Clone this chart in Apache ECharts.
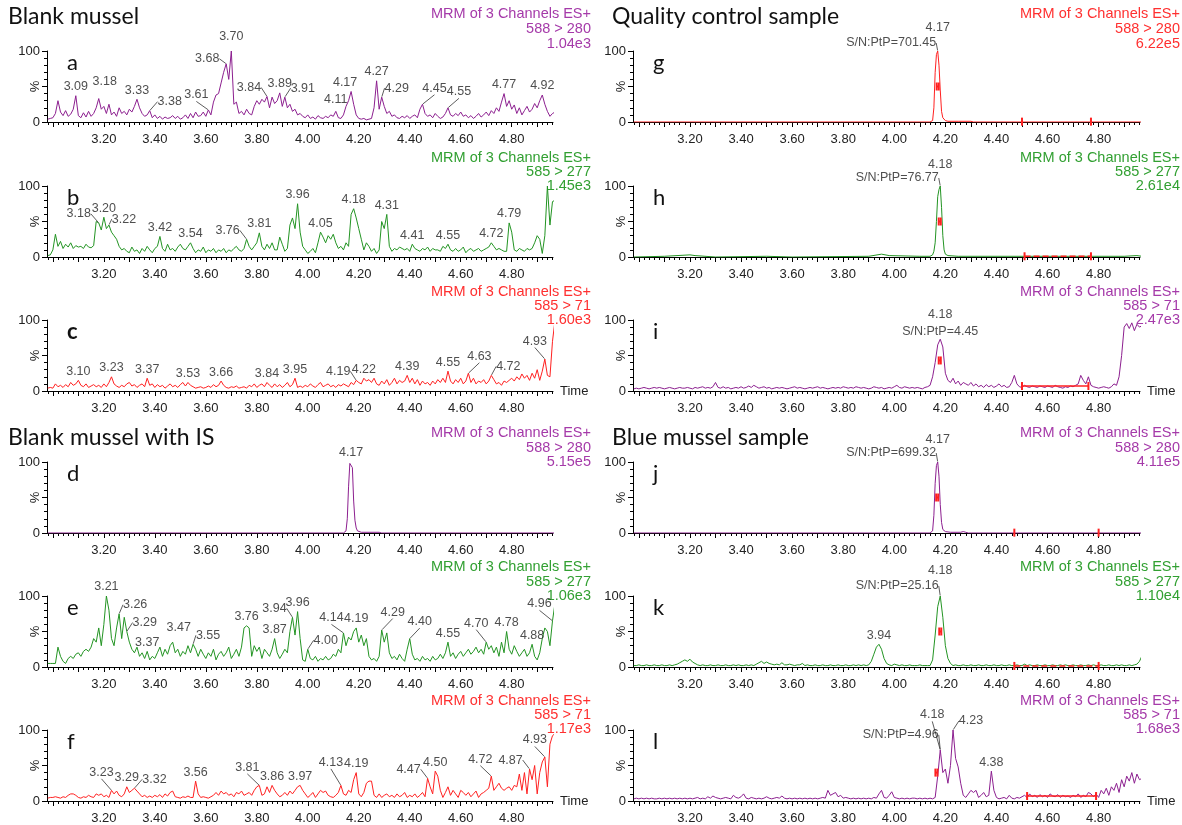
<!DOCTYPE html>
<html><head><meta charset="utf-8">
<script src="https://cdn.jsdelivr.net/npm/echarts@6/dist/echarts.min.js"></script>
<style>html,body{margin:0;padding:0;background:#fff}#c{width:1182px;height:825px}</style>
</head><body><div id="c"></div><script>
// ---------- DATA ----------
const scanTimes = [
2.98,2.99,3.00,3.01,3.02,3.03,3.04,3.05,3.06,3.07,
3.08,3.09,3.10,3.11,3.12,3.13,3.14,3.15,3.16,3.17,
3.18,3.19,3.20,3.21,3.22,3.23,3.24,3.25,3.26,3.27,
3.28,3.29,3.30,3.31,3.32,3.33,3.34,3.35,3.36,3.37,
3.38,3.39,3.40,3.41,3.42,3.43,3.44,3.45,3.46,3.47,
3.48,3.49,3.50,3.51,3.52,3.53,3.54,3.55,3.56,3.57,
3.58,3.59,3.60,3.61,3.62,3.63,3.64,3.65,3.66,3.67,
3.68,3.69,3.70,3.71,3.72,3.73,3.74,3.75,3.76,3.77,
3.78,3.79,3.80,3.81,3.82,3.83,3.84,3.85,3.86,3.87,
3.88,3.89,3.90,3.91,3.92,3.93,3.94,3.95,3.96,3.97,
3.98,3.99,4.00,4.01,4.02,4.03,4.04,4.05,4.06,4.07,
4.08,4.09,4.10,4.11,4.12,4.13,4.14,4.15,4.16,4.17,
4.18,4.19,4.20,4.21,4.22,4.23,4.24,4.25,4.26,4.27,
4.28,4.29,4.30,4.31,4.32,4.33,4.34,4.35,4.36,4.37,
4.38,4.39,4.40,4.41,4.42,4.43,4.44,4.45,4.46,4.47,
4.48,4.49,4.50,4.51,4.52,4.53,4.54,4.55,4.56,4.57,
4.58,4.59,4.60,4.61,4.62,4.63,4.64,4.65,4.66,4.67,
4.68,4.69,4.70,4.71,4.72,4.73,4.74,4.75,4.76,4.77,
4.78,4.79,4.80,4.81,4.82,4.83,4.84,4.85,4.86,4.87,
4.88,4.89,4.90,4.91,4.92,4.93,4.94,4.95,4.96,4.97];

const traceA = [
4,5,6,12,30,14,9,16,8,11, 18,37,9,6,13,7,15,8,12,20,
33,18,22,12,25,10,14,8,20,12, 15,10,18,14,22,32,20,12,8,10,
16,6,10,5,8,4,7,5,6,9, 5,8,4,6,10,5,12,6,14,8,
9,14,8,17,10,28,38,40,55,70, 82,60,100,25,28,12,15,10,18,12,
10,22,30,25,32,28,36,20,35,26, 30,41,22,35,20,25,15,18,10,12,
8,6,10,5,7,4,9,6,5,8, 6,10,8,15,6,5,10,22,30,43,
25,10,5,4,5,3,4,5,20,58, 18,35,22,12,15,8,10,6,5,8,
6,9,5,8,10,6,18,25,12,8, 10,6,12,8,5,7,12,20,10,8,
12,9,14,8,10,6,9,5,8,12, 7,10,14,9,16,12,20,15,28,40,
22,30,18,24,12,20,10,16,22,14, 18,26,20,30,38,25,15,8,12,14];
const traceB = [
2,3,10,32,15,22,12,18,14,20, 12,16,14,15,12,18,14,13,16,50,
48,38,56,40,45,35,30,25,15,10, 12,8,6,14,8,10,5,12,8,15,
10,6,12,15,29,12,8,18,10,12, 8,14,18,12,10,15,20,12,6,10,
8,14,6,10,8,12,6,10,8,12, 6,10,8,12,15,10,8,12,25,15,
10,15,20,34,15,10,18,12,20,10, 10,28,18,8,12,45,55,40,75,35,
15,10,5,8,12,6,20,35,28,20, 30,25,32,20,12,15,10,20,15,60,
68,55,40,25,10,20,15,8,12,5, 10,50,40,60,15,8,12,10,14,12,
10,12,8,18,12,10,8,12,10,14, 8,12,10,10,8,15,12,18,10,8,
12,8,10,14,6,10,12,8,10,12, 8,10,12,14,20,15,10,12,10,8,
8,48,35,10,8,12,10,8,12,10, 12,20,30,25,5,30,100,45,78,80];
const traceC = [
4,5,4,10,6,8,5,9,6,12, 8,10,15,8,6,10,5,7,9,6,
8,5,10,6,12,20,10,7,5,8, 6,10,12,7,9,5,8,10,6,18,
8,10,5,9,6,8,4,7,10,6, 8,5,9,12,7,12,8,6,4,5,
6,4,5,7,5,9,6,8,14,8, 5,4,6,5,7,4,5,6,4,8,
6,10,5,8,10,6,12,8,5,10, 6,9,5,8,12,6,9,18,5,7,
5,8,6,10,7,5,9,12,6,8, 10,6,8,5,9,7,10,8,6,12,
9,15,12,10,18,14,16,12,18,10, 8,14,10,16,8,12,18,10,15,12,
14,22,12,18,10,16,8,14,10,12, 8,14,10,16,12,18,12,28,14,10,
16,12,18,10,14,25,12,18,10,14, 12,16,10,14,22,16,10,12,8,14,
12,15,18,14,20,16,24,18,22,15, 25,18,30,15,28,45,22,20,70,100];
const timesD  = [2.98,4.14,4.15,4.155,4.16,4.165,4.17,4.175,4.18,4.185,4.19,4.195,4.20,4.21,4.28,4.29,4.97];
const valuesD = [0,0,3,20,65,98,100,92,45,18,7,3,2,1,1,0,0];
const traceE = [
5,5,5,5,28,15,8,5,12,15, 12,18,20,15,22,25,22,28,40,35,
55,30,60,100,80,40,30,55,75,40, 70,50,35,25,20,28,15,20,12,22,
10,15,12,20,28,15,25,18,30,35, 20,25,15,22,18,30,20,32,25,15,
25,18,12,20,15,25,10,18,22,15, 20,28,12,18,25,15,28,55,58,55,
15,30,22,28,12,25,20,15,25,40, 20,12,18,25,20,50,70,45,78,40,
10,8,25,12,10,15,8,12,10,15, 10,12,18,15,25,20,48,30,42,38,
50,55,35,45,30,40,15,10,12,8, 15,52,35,48,20,12,15,10,18,12,
8,25,40,18,10,12,8,15,10,12, 8,15,10,12,18,12,20,35,15,20,
12,18,22,15,20,25,18,22,28,20, 25,18,35,25,30,20,28,15,35,20,
50,25,18,30,22,15,20,25,15,20, 32,15,10,20,40,55,50,30,65,90];
const traceF = [
4,5,5,6,5,4,6,5,8,10, 10,8,5,4,6,5,8,6,5,10,
8,10,6,8,5,15,10,14,8,6, 10,20,12,15,18,14,10,6,8,5,
7,5,8,6,9,5,10,7,12,14, 6,5,4,6,5,7,5,5,28,10,
5,6,5,4,6,8,12,8,14,10, 12,8,10,6,12,10,14,8,10,12,
8,15,20,22,8,10,20,12,22,15, 10,6,8,12,8,14,10,15,20,22,
15,10,5,8,12,5,10,15,12,14, 8,6,5,8,12,22,10,8,15,12,
30,40,10,6,12,25,28,28,8,5, 10,5,8,10,6,8,5,10,6,8,
12,5,8,6,10,5,8,12,6,32, 20,10,42,35,15,5,12,20,8,15,
10,5,15,12,8,12,6,10,14,5, 10,12,15,18,35,15,20,25,18,15,
18,20,15,22,20,38,15,40,10,45, 30,50,10,40,55,62,20,80,92,95];
const timesG  = [2.98,4.14,4.15,4.155,4.16,4.165,4.17,4.175,4.18,4.185,4.19,4.20,4.21,4.25,4.30,4.31,4.97];
const valuesG = [0,0,2,20,70,95,100,80,45,15,6,2,1,1,1,0,0];
const timesH  = [2.98,3.10,3.20,3.22,3.30,3.50,3.60,3.90,3.95,3.98,4.10,4.14,4.15,4.155,4.16,4.165,4.17,4.175,4.18,4.185,4.19,4.195,4.20,4.21,4.25,4.50,4.70,4.90,4.95,4.97];
const valuesH = [0,1,3,2,0,1,0,1,4,2,1,1,3,8,20,50,85,95,100,70,30,10,4,2,1,1,1,1,2,1];
const traceI = [
3,4,3,4,5,4,3,4,5,4, 5,4,3,4,5,4,3,4,5,4,
4,5,4,3,5,4,5,6,4,5, 4,6,12,5,4,6,4,5,3,4,
5,4,6,4,5,7,5,8,6,4, 5,6,4,5,3,4,5,4,5,4,
3,4,5,6,4,5,4,3,4,5, 4,5,6,4,5,4,3,4,5,4,
5,4,6,5,4,5,4,6,5,4, 5,4,3,4,6,5,4,5,3,4,
5,4,6,8,5,4,6,5,4,5, 4,5,4,3,5,6,8,20,40,65,
73,62,25,15,12,18,10,14,8,12, 10,8,12,7,10,6,8,5,9,6,
8,5,7,10,6,8,5,6,12,22, 10,6,5,8,6,5,7,6,5,7,
6,5,7,6,5,8,6,5,4,6, 5,7,6,8,10,22,15,10,20,8,
6,5,4,5,6,5,4,6,10,8, 20,50,90,95,88,96,85,94,90,92];
const timesJ  = [2.98,4.14,4.15,4.155,4.16,4.165,4.17,4.175,4.18,4.185,4.19,4.20,4.22,4.26,4.27,4.28,4.29,4.97];
const valuesJ = [0,0,3,25,70,95,100,80,40,15,5,2,1,1,2,1,0,0];
const traceK = [
2,2,3,2,2,3,2,2,3,2, 2,3,2,2,3,2,3,4,6,8,
10,8,11,7,5,3,2,3,2,2, 3,2,2,3,2,2,3,2,2,3,
2,3,2,2,3,2,3,2,4,6, 8,5,7,5,4,3,4,3,6,3,
3,4,3,2,3,3,5,2,3,2, 2,3,2,2,3,2,2,3,2,2,
3,2,2,3,2,2,3,2,3,2, 3,2,3,8,18,28,32,25,12,5,
3,2,4,3,2,3,2,2,3,2, 2,2,3,2,2,2,2,10,45,85,
100,70,30,12,5,2,3,2,2,3, 2,2,3,2,2,3,2,2,3,2,
2,3,2,2,3,2,2,3,2,2, 3,2,2,4,2,3,2,2,3,2,
2,3,2,2,3,2,2,3,2,3, 2,2,3,2,2,3,2,2,3,2,
3,2,2,3,2,2,3,2,2,3, 2,3,2,2,3,2,3,4,8,16];
const traceL = [
3,4,3,4,3,4,3,4,3,3, 4,3,4,3,4,3,4,3,4,3,
4,3,4,3,4,5,3,4,3,6, 4,7,5,4,3,4,5,4,3,8,
5,4,6,10,4,3,5,4,3,4, 3,4,6,4,3,4,5,4,7,4,
3,4,3,4,3,4,3,4,3,4, 3,4,3,4,5,4,15,8,10,12,
6,8,4,5,4,3,4,3,4,3, 4,3,4,3,5,4,10,15,5,4,
8,13,5,4,3,4,3,4,3,4, 4,3,4,3,4,3,4,3,5,35,
72,40,45,25,50,100,60,48,25,8, 5,10,15,12,15,5,8,12,6,8,
42,15,5,3,4,5,3,8,4,3, 5,4,6,8,5,10,6,8,5,9,
6,8,5,10,7,6,9,5,8,6, 7,5,8,6,10,5,8,6,12,10,
6,10,5,15,10,18,8,20,15,25, 12,30,20,35,28,40,25,38,30,32];

// labelled peak apex times
const peaksA = [3.09,3.18,3.33,3.38,3.61,3.68,3.70,3.84,3.89,3.91,4.11,4.17,4.27,4.29,4.45,4.55,4.77,4.92];
const peaksB = [3.18,3.20,3.22,3.42,3.54,3.76,3.81,3.96,4.05,4.18,4.31,4.41,4.55,4.72,4.79];
const peaksC = [3.10,3.23,3.37,3.53,3.66,3.84,3.95,4.19,4.22,4.39,4.55,4.63,4.72,4.93];
const peaksD = [4.17];
const peaksE = [3.21,3.26,3.29,3.37,3.47,3.55,3.76,3.87,3.94,3.96,4.00,4.14,4.19,4.29,4.40,4.55,4.70,4.78,4.88,4.96];
const peaksF = [3.23,3.29,3.32,3.56,3.81,3.86,3.97,4.13,4.19,4.47,4.50,4.72,4.87,4.93];
const peaksG = [4.17], peaksH = [4.18], peaksI = [4.18], peaksJ = [4.17], peaksK = [3.94,4.18], peaksL = [4.18,4.23,4.38];
// signal-to-noise annotations
const snG = [4.17,'S/N:PtP=701.45'], snH = [4.18,'S/N:PtP=76.77'], snI = [4.18,'S/N:PtP=4.45'];
const snJ = [4.17,'S/N:PtP=699.32'], snK = [4.18,'S/N:PtP=25.16'], snL = [4.18,'S/N:PtP=4.96'];
// integration marks: half-height marker [t, %], noise window [t1, t2, %]
const halfG=[4.17,50], halfH=[4.178,50], halfI=[4.178,43], halfJ=[4.168,50], halfK=[4.18,50], halfL=[4.165,40];
const noiseG=[4.50,4.77,0.5], noiseH=[4.51,4.77,1], noiseI=[4.50,4.76,7], noiseJ=[4.47,4.80,0.5], noiseK=[4.47,4.80,1.5], noiseL=[4.52,4.79,7];

const tickLabelValues = [3.2,3.4,3.6,3.8,4.0,4.2,4.4,4.6,4.8];
const majorTickValues = [3.0,3.1,3.2,3.3,3.4,3.5,3.6,3.7,3.8,3.9,4.0,4.1,4.2,4.3,4.4,4.5,4.6,4.7,4.8,4.9];
const minorTickValues = [];
for (let k = 149; k <= 248; k++) minorTickValues.push(+(k * 0.02).toFixed(2));

// ---------- LAYOUT / STYLE ----------
const X_MIN = 2.977, X_MAX = 4.962;
const PURPLE='#8c1f8f', PURPLE_T='#a53aa9', GREEN='#239423', GREEN_T='#32a032', RED='#ff2020', RED_T='#ff3030';
const COLS = [{left:47,width:506,textRight:591},{left:633,width:507,textRight:1180}];
const ROW_TOPS = [51,186,320,462,596,730];
const TEXT_OFFS = [[-37,-22,-7],[-28,-14,0],[-28,-14,0],[-29,-14,0],[-29,-14,0],[-29,-15,-1]];
const PLOT_H = 71;
const FONT = "'Liberation Sans', Arial, sans-serif";

// label nudges [dx,dy] in pixels, keyed by label text
const nudges = {
  a:{'3.18':[6,-8],'3.38':[20,0],'3.61':[-12,-6],'3.68':[-19,4],'3.70':[0,-5],'3.84':[-18,0],'3.91':[18,0],'4.11':[0,-3],'4.17':[-6,0],'4.29':[15,0],'4.45':[12,-7],'4.55':[11,-7]},
  b:{'3.18':[-20,0],'3.22':[15,3],'3.76':[-19,0]},
  c:{'4.19':[-18,0],'4.63':[11,-8],'4.72':[17,0],'4.93':[-10,-9]},
  d:{},
  e:{'3.26':[16,0],'3.29':[18,0],'3.47':[6,-6],'3.55':[15,0],'3.94':[-18,0],'4.00':[18,0],'4.14':[-12,-6],'4.29':[11,-9],'4.40':[10,-8],'4.70':[-10,-10],'4.96':[-13,-8]},
  f:{'3.23':[-10,-9],'3.32':[20,0],'3.81':[-12,-9],'4.13':[-10,-14],'4.47':[-19,0],'4.72':[-11,-8],'4.87':[-19,0],'4.93':[-10,-8]},
  g:{'4.17':[0,-14]}, h:{'4.18':[0,-12]}, i:{'4.18':[0,-16]}, j:{'4.17':[0,-13]}, k:{'4.18':[0,-16]}, l:{'4.18':[-8,-26],'4.23':[18,0]}
};
const snNudge = {g:['left',[0,-8]], h:['left',[0,-8]], i:['top',[0,1]], j:['left',[0,-9]], k:['left',[0,-10]], l:['left',[0,-15]]};

const panels = [
 {id:'a',col:0,row:0,color:PURPLE,tc:PURPLE_T,ch:'588 > 280',sc:'1.04e3',t:scanTimes,v:traceA,pk:peaksA},
 {id:'b',col:0,row:1,color:GREEN,tc:GREEN_T,ch:'585 > 277',sc:'1.45e3',t:scanTimes,v:traceB,pk:peaksB},
 {id:'c',col:0,row:2,color:RED,tc:RED_T,ch:'585 > 71',sc:'1.60e3',t:scanTimes,v:traceC,pk:peaksC,time:true,bold:true},
 {id:'d',col:0,row:3,color:PURPLE,tc:PURPLE_T,ch:'588 > 280',sc:'5.15e5',t:timesD,v:valuesD,pk:peaksD},
 {id:'e',col:0,row:4,color:GREEN,tc:GREEN_T,ch:'585 > 277',sc:'1.06e3',t:scanTimes,v:traceE,pk:peaksE},
 {id:'f',col:0,row:5,color:RED,tc:RED_T,ch:'585 > 71',sc:'1.17e3',t:scanTimes,v:traceF,pk:peaksF,time:true},
 {id:'g',col:1,row:0,color:RED,tc:RED_T,ch:'588 > 280',sc:'6.22e5',t:timesG,v:valuesG,pk:peaksG,sn:snG,half:halfG,noise:noiseG,nl:'none'},
 {id:'h',col:1,row:1,color:GREEN,tc:GREEN_T,ch:'585 > 277',sc:'2.61e4',t:timesH,v:valuesH,pk:peaksH,sn:snH,half:halfH,noise:noiseH,nl:'dashed'},
 {id:'i',col:1,row:2,color:PURPLE,tc:PURPLE_T,ch:'585 > 71',sc:'2.47e3',t:scanTimes,v:traceI,pk:peaksI,sn:snI,half:halfI,noise:noiseI,nl:'solid',time:true},
 {id:'j',col:1,row:3,color:PURPLE,tc:PURPLE_T,ch:'588 > 280',sc:'4.11e5',t:timesJ,v:valuesJ,pk:peaksJ,sn:snJ,half:halfJ,noise:noiseJ,nl:'none'},
 {id:'k',col:1,row:4,color:GREEN,tc:GREEN_T,ch:'585 > 277',sc:'1.10e4',t:scanTimes,v:traceK,pk:peaksK,sn:snK,half:halfK,noise:noiseK,nl:'dashed'},
 {id:'l',col:1,row:5,color:PURPLE,tc:PURPLE_T,ch:'585 > 71',sc:'1.68e3',t:scanTimes,v:traceL,pk:peaksL,sn:snL,half:halfL,noise:noiseL,nl:'solid',time:true}
];

function valueAt(p, t){
  let bi = 0, bd = Infinity;
  p.t.forEach((x,i)=>{ const d = Math.abs(x-t); if (d < bd){ bd = d; bi = i; } });
  return p.v[bi];
}

const grid=[], xAxis=[], yAxis=[], series=[], graphic=[];
panels.forEach((p, gi) => {
  const c = COLS[p.col], top = ROW_TOPS[p.row];
  grid.push({left:c.left, top:top, width:c.width, height:PLOT_H});
  xAxis.push({type:'value', gridIndex:gi, position:'bottom', min:X_MIN, max:X_MAX,
    axisLine:{show:true, lineStyle:{color:'#000', width:1}},
    axisTick:{show:true, length:5, customValues:majorTickValues, lineStyle:{color:'#000'}},
    axisLabel:{show:true, customValues:tickLabelValues, margin:11, formatter:v=>v.toFixed(2), color:'#222', fontSize:13, fontFamily:FONT},
    splitLine:{show:false},
    name: p.time ? 'Time' : '', nameLocation:'end', nameGap:7, nameMoveOverlap:false,
    nameTextStyle:{color:'#222', fontSize:13, fontFamily:FONT}
  });
  xAxis.push({type:'value', gridIndex:gi, position:'bottom', offset:0, min:X_MIN, max:X_MAX,
    axisLine:{show:false}, axisLabel:{show:false}, splitLine:{show:false},
    axisTick:{show:true, length:3, customValues:minorTickValues, lineStyle:{color:'#000'}}
  });
  yAxis.push({type:'value', gridIndex:gi, min:0, max:100, interval:50,
    axisLine:{show:true, lineStyle:{color:'#000'}},
    axisTick:{show:true, length:5, lineStyle:{color:'#000'}},
    minorTick:{show:true, splitNumber:5, length:3, lineStyle:{color:'#000'}},
    splitLine:{show:false}, minorSplitLine:{show:false},
    axisLabel:{margin:7, color:'#222', fontSize:13, fontFamily:FONT, formatter:v=> v===0?'0':(v===100?'100':'')},
    name:'%', nameLocation:'middle', nameGap:5, nameRotate:90, nameMoveOverlap:false,
    nameTextStyle:{color:'#222', fontSize:13, fontFamily:FONT}
  });
  // trace
  series.push({type:'line', xAxisIndex:2*gi, yAxisIndex:gi, showSymbol:false, symbol:'none',
    lineStyle:{color:p.color, width:1}, itemStyle:{color:p.color}, z:3, silent:true,
    data: p.t.map((t,i)=>[t, p.v[i]])});
  // integration marks
  if (p.noise) {
    series.push({type:'line', xAxisIndex:2*gi, yAxisIndex:gi, symbol:'rect', symbolSize:[2,8], z:4, silent:true,
      itemStyle:{color:RED}, lineStyle:{color:RED, width:1.5, type: p.nl==='none'?'solid':p.nl, opacity: p.nl==='none'?0:1},
      data:[[p.noise[0],p.noise[2]],[p.noise[1],p.noise[2]]]});
  }
  if (p.half) {
    series.push({type:'line', xAxisIndex:2*gi, yAxisIndex:gi, symbol:'rect', symbolSize:[2,8], z:4, silent:true,
      itemStyle:{color:RED}, lineStyle:{color:RED, width:2},
      data:[[p.half[0]-0.004,p.half[1]],[p.half[0]+0.004,p.half[1]]]});
  }
  // peak labels
  const nd = nudges[p.id] || {};
  const items = [], moves = [];
  p.pk.forEach(t => {
    const key = t.toFixed(2), mv = nd[key] || [0,0];
    items.push({name:key, value:[t, valueAt(p,t)], labelLine:{show: Math.abs(mv[0])>=8 || (p.id==='l' && key==='4.23')}});
    moves.push(mv);
  });
  if (p.sn) {
    const sp = snNudge[p.id];
    items.push({name:p.sn[1], value:[p.sn[0], valueAt(p,p.sn[0])],
      label:{position:sp[0], distance: sp[0]==='left'?1:2}, labelLine:{show: sp[0]==='left'}});
    moves.push(sp[1]);
  }
  series.push({type:'scatter', xAxisIndex:2*gi, yAxisIndex:gi, symbolSize:1, z:6, silent:true, clip:false,
    itemStyle:{color:'rgba(0,0,0,0)'},
    label:{show:true, position:'top', distance:2, formatter:'{b}', color:'#222', fontSize:12.5, fontFamily:FONT},
    labelLine:{show:false, smooth:false, lineStyle:{color:'#333', width:0.8}},
    labelLayout: (params) => { const m = moves[params.dataIndex] || [0,0]; return {dx:m[0], dy:m[1]}; },
    data: items});
  // panel letter
  graphic.push({type:'text', left:c.left+20, top:top+1, silent:true,
    style:{text:p.id, font:(p.bold?'bold ':'')+"22px Lato, 'Open Sans', sans-serif", fill:'#111'}});
  // channel description, right aligned
  const lines = ['MRM of 3 Channels ES+', p.ch, p.sc];
  lines.forEach((s, k) => {
    graphic.push({type:'text', x:c.textRight, y:top + TEXT_OFFS[p.row][k], silent:true, z:1,
      style:{text:s, align:'right', verticalAlign:'middle', font:'14.5px '+FONT, fill:p.tc}});
  });
});

const TITLE_FONT = "23px Lato, 'Open Sans', sans-serif";
graphic.push({type:'text', left:8, top:5, style:{text:'Blank mussel', font:TITLE_FONT, fill:'#111'}});
graphic.push({type:'text', left:8, top:426, style:{text:'Blank mussel with IS', font:TITLE_FONT, fill:'#111'}});
graphic.push({type:'text', left:612, top:5, style:{text:'Quality control sample', font:TITLE_FONT, fill:'#111'}});
graphic.push({type:'text', left:612, top:426, style:{text:'Blue mussel sample', font:TITLE_FONT, fill:'#111'}});

const chart = echarts.init(document.getElementById('c'));
chart.setOption({animation:false, backgroundColor:'#fff', grid, xAxis, yAxis, series, graphic});
</script></body></html>
